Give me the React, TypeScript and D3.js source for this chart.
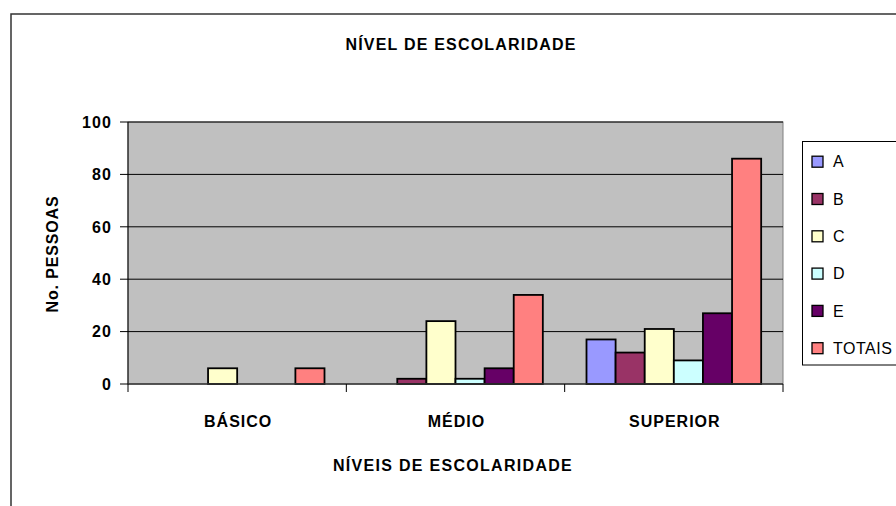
import React from "react";
import * as d3 from "d3";

const categories = ["BÁSICO", "MÉDIO", "SUPERIOR"];
const seriesNames = ["A", "B", "C", "D", "E", "TOTAIS"];
const seriesColors = ["#9999FF", "#993366", "#FFFFCC", "#CCFFFF", "#660066", "#FF8080"];
const valuesA = [0, 0, 17];
const valuesB = [0, 2, 12];
const valuesC = [6, 24, 21];
const valuesD = [0, 2, 9];
const valuesE = [0, 6, 27];
const valuesTotais = [6, 34, 86];
const yTicks = [0, 20, 40, 60, 80, 100];

const seriesValues = [valuesA, valuesB, valuesC, valuesD, valuesE, valuesTotais];

const W = 896;
const H = 506;
const plot = { left: 128, right: 783, top: 122, bottom: 384 };
const font = "'Liberation Sans', Arial, sans-serif";

export default function App() {
  const x = d3
    .scaleBand<string>()
    .domain(categories)
    .range([plot.left, plot.right])
    .paddingInner(0)
    .paddingOuter(0);
  const groupW = x.bandwidth();
  const barW = groupW / 7.5;
  const inner = d3
    .scaleBand<string>()
    .domain(seriesNames)
    .range([barW * 0.75, barW * 0.75 + barW * 6])
    .padding(0);
  const y = d3.scaleLinear().domain([0, 100]).range([plot.bottom, plot.top]);

  const boundaries = [...categories.map((c) => x(c) as number), plot.right];

  return (
    <svg
      width={W}
      height={H}
      style={{ position: "absolute", left: 0, top: 0, background: "#fff" }}
      fontFamily={font}
    >
      {/* outer chart border */}
      <rect x={11} y={14} width={W + 20} height={H + 20} fill="#fff" stroke="#333" strokeWidth={1.5} />

      {/* title */}
      <text
        x={461}
        y={49.5}
        textAnchor="middle"
        fontSize={16}
        fontWeight="bold"
        letterSpacing={1.2}
        fill="#000"
      >
        NÍVEL DE ESCOLARIDADE
      </text>

      {/* plot area */}
      <rect
        x={plot.left}
        y={plot.top}
        width={plot.right - plot.left}
        height={plot.bottom - plot.top}
        fill="#C0C0C0"
        stroke="#808080"
        strokeWidth={1}
      />

      {/* gridlines */}
      {yTicks
        .filter((t) => t > 0)
        .map((t) => (
          <line key={"g" + t} x1={plot.left} x2={plot.right} y1={y(t)} y2={y(t)} stroke="#000" strokeWidth={1} />
        ))}

      {/* bars */}
      {categories.map((c, ci) => (
        <g key={c}>
          {seriesNames.map((s, si) => {
            const v = seriesValues[si][ci];
            if (v <= 0) return null;
            const bx = (x(c) as number) + (inner(s) as number);
            return (
              <rect
                key={s}
                x={bx}
                y={y(v)}
                width={inner.bandwidth()}
                height={y(0) - y(v)}
                fill={seriesColors[si]}
                stroke="#000"
                strokeWidth={1.8}
              />
            );
          })}
        </g>
      ))}

      {/* y axis */}
      <line x1={plot.left} x2={plot.left} y1={plot.top} y2={plot.bottom} stroke="#000" strokeWidth={1} />
      {yTicks.map((t) => (
        <g key={"y" + t}>
          <line x1={plot.left - 8} x2={plot.left} y1={y(t)} y2={y(t)} stroke="#000" strokeWidth={1} />
          <text
            x={112}
            y={y(t)}
            dy="0.36em"
            textAnchor="end"
            fontSize={16}
            fontWeight="bold"
            letterSpacing={1.1}
            fill="#000"
          >
            {t}
          </text>
        </g>
      ))}

      {/* x axis */}
      <line x1={plot.left} x2={plot.right} y1={plot.bottom} y2={plot.bottom} stroke="#333" strokeWidth={1.5} />
      {boundaries.map((b, i) => (
        <line key={"xt" + i} x1={b} x2={b} y1={plot.bottom} y2={plot.bottom + 8} stroke="#000" strokeWidth={1} />
      ))}
      {categories.map((c) => (
        <text
          key={"xl" + c}
          x={(x(c) as number) + groupW / 2 + 1}
          y={426.5}
          textAnchor="middle"
          fontSize={16}
          fontWeight="bold"
          letterSpacing={1}
          fill="#000"
        >
          {c}
        </text>
      ))}

      {/* axis titles */}
      <text
        x={453}
        y={471}
        textAnchor="middle"
        fontSize={16}
        fontWeight="bold"
        letterSpacing={1.3}
        fill="#000"
      >
        NÍVEIS DE ESCOLARIDADE
      </text>
      <text
        transform="translate(58,254) rotate(-90)"
        textAnchor="middle"
        fontSize={16}
        fontWeight="bold"
        letterSpacing={0.85}
        fill="#000"
      >
        No. PESSOAS
      </text>

      {/* legend */}
      <rect x={802.5} y={141.5} width={120} height={223.5} fill="#fff" stroke="#000" strokeWidth={1} />
      {seriesNames.map((s, i) => {
        const cy = 161.7 + i * 37.3;
        return (
          <g key={"lg" + s}>
            <rect x={812} y={cy - 5.5} width={11} height={11} fill={seriesColors[i]} stroke="#000" strokeWidth={1.3} />
            <text x={833} y={cy} dy="0.36em" fontSize={16} letterSpacing={0.5} fill="#000">
              {s}
            </text>
          </g>
        );
      })}
    </svg>
  );
}
